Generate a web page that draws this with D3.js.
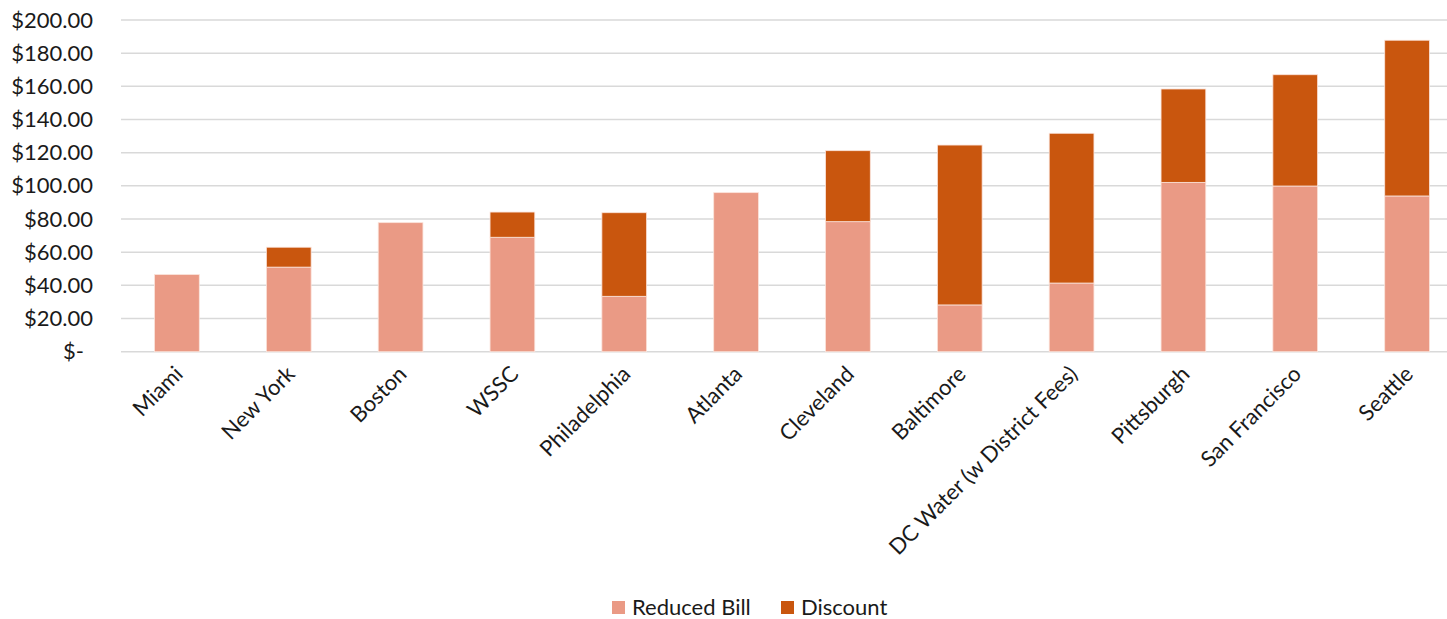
<!DOCTYPE html>
<html>
<head>
<meta charset="utf-8">
<script src="https://cdn.jsdelivr.net/npm/d3@7"></script>
<style>
  html, body { margin: 0; padding: 0; background: #fff; }
  svg { display: block; font-family: Lato, "Open Sans", sans-serif; }
</style>
</head>
<body>
<svg id="chart" width="1447" height="619"></svg>
<script>
// Monthly bill per utility: reduced bill after assistance, plus the discount amount
const cities = ["Miami", "New York", "Boston", "WSSC", "Philadelphia", "Atlanta",
  "Cleveland", "Baltimore", "DC Water (w District Fees)", "Pittsburgh", "San Francisco", "Seattle"];
const reducedBill = [46.5, 51, 77.8, 69, 33.4, 95.9, 78.4, 28.2, 41.4, 102.1, 99.9, 93.9];
const discount    = [0, 12, 0, 15.2, 50.4, 0, 42.8, 96.4, 90.3, 56.3, 67.1, 93.9];
const yTicks = [0, 20, 40, 60, 80, 100, 120, 140, 160, 180, 200];
const seriesNames = ["Reduced Bill", "Discount"];
const seriesColors = ["#EA9A85", "#C9560E"];

const svg = d3.select("#chart");
const margin = { left: 121, right: 1463, top: 20, bottom: 351.7 };
const fontSize = 22;

const x = d3.scaleBand().domain(cities).range([margin.left, margin.right])
  .paddingInner(0.6).paddingOuter(0.3);
const y = d3.scaleLinear().domain([0, 200]).range([margin.bottom, margin.top]);

const fmt = v => v === 0 ? "$-" : "$" + d3.format(",.2f")(v);

// Horizontal gridlines
svg.append("g").selectAll("line").data(yTicks).join("line")
  .attr("x1", margin.left).attr("x2", 1447)
  .attr("y1", d => y(d)).attr("y2", d => y(d))
  .attr("stroke", "#d9d9d9").attr("stroke-width", 1.5);

// Y axis labels
const yAxis = d3.axisLeft(y).tickValues(yTicks).tickFormat(fmt).tickSize(0).tickPadding(0);
const gy = svg.append("g").attr("transform", `translate(93,0)`).call(yAxis);
gy.select(".domain").remove();
gy.selectAll("text").attr("font-size", fontSize).attr("fill", "#1a1a1a")
  .attr("font-family", "Lato, sans-serif")
  .attr("dx", d => d === 0 ? -9 : 0);

// Stacked bars
const rows = cities.map((c, i) => ({ city: c, "Reduced Bill": reducedBill[i], "Discount": discount[i] }));
const stack = d3.stack().keys(seriesNames)(rows);
svg.append("g").selectAll("g").data(stack).join("g")
  .attr("fill", (d, i) => seriesColors[i])
  .selectAll("rect").data(d => d.filter(p => p[1] - p[0] > 0)).join("rect")
  .attr("x", d => x(d.data.city))
  .attr("width", x.bandwidth())
  .attr("y", d => y(d[1]))
  .attr("height", d => y(d[0]) - y(d[1]))
  .attr("stroke", "#fbe3da").attr("stroke-width", 0.8);

// Rotated category labels
svg.append("g").selectAll("text").data(cities).join("text")
  .attr("transform", d => `translate(${x(d) + x.bandwidth() / 2 + 2},370) rotate(-45)`)
  .attr("text-anchor", "end").attr("dy", "0.35em")
  .attr("font-size", fontSize).attr("fill", "#1a1a1a")
  .text(d => d);

// Legend
const legend = svg.append("g");
const legendItems = [
  { name: seriesNames[0], color: seriesColors[0], x: 612 },
  { name: seriesNames[1], color: seriesColors[1], x: 781 }
];
legendItems.forEach(it => {
  legend.append("rect").attr("x", it.x).attr("y", 601).attr("width", 13).attr("height", 13)
    .attr("fill", it.color);
  legend.append("text").attr("x", it.x + 20).attr("y", 607.5).attr("dy", "0.35em")
    .attr("font-size", fontSize).attr("fill", "#1a1a1a").text(it.name);
});
</script>
</body>
</html>
